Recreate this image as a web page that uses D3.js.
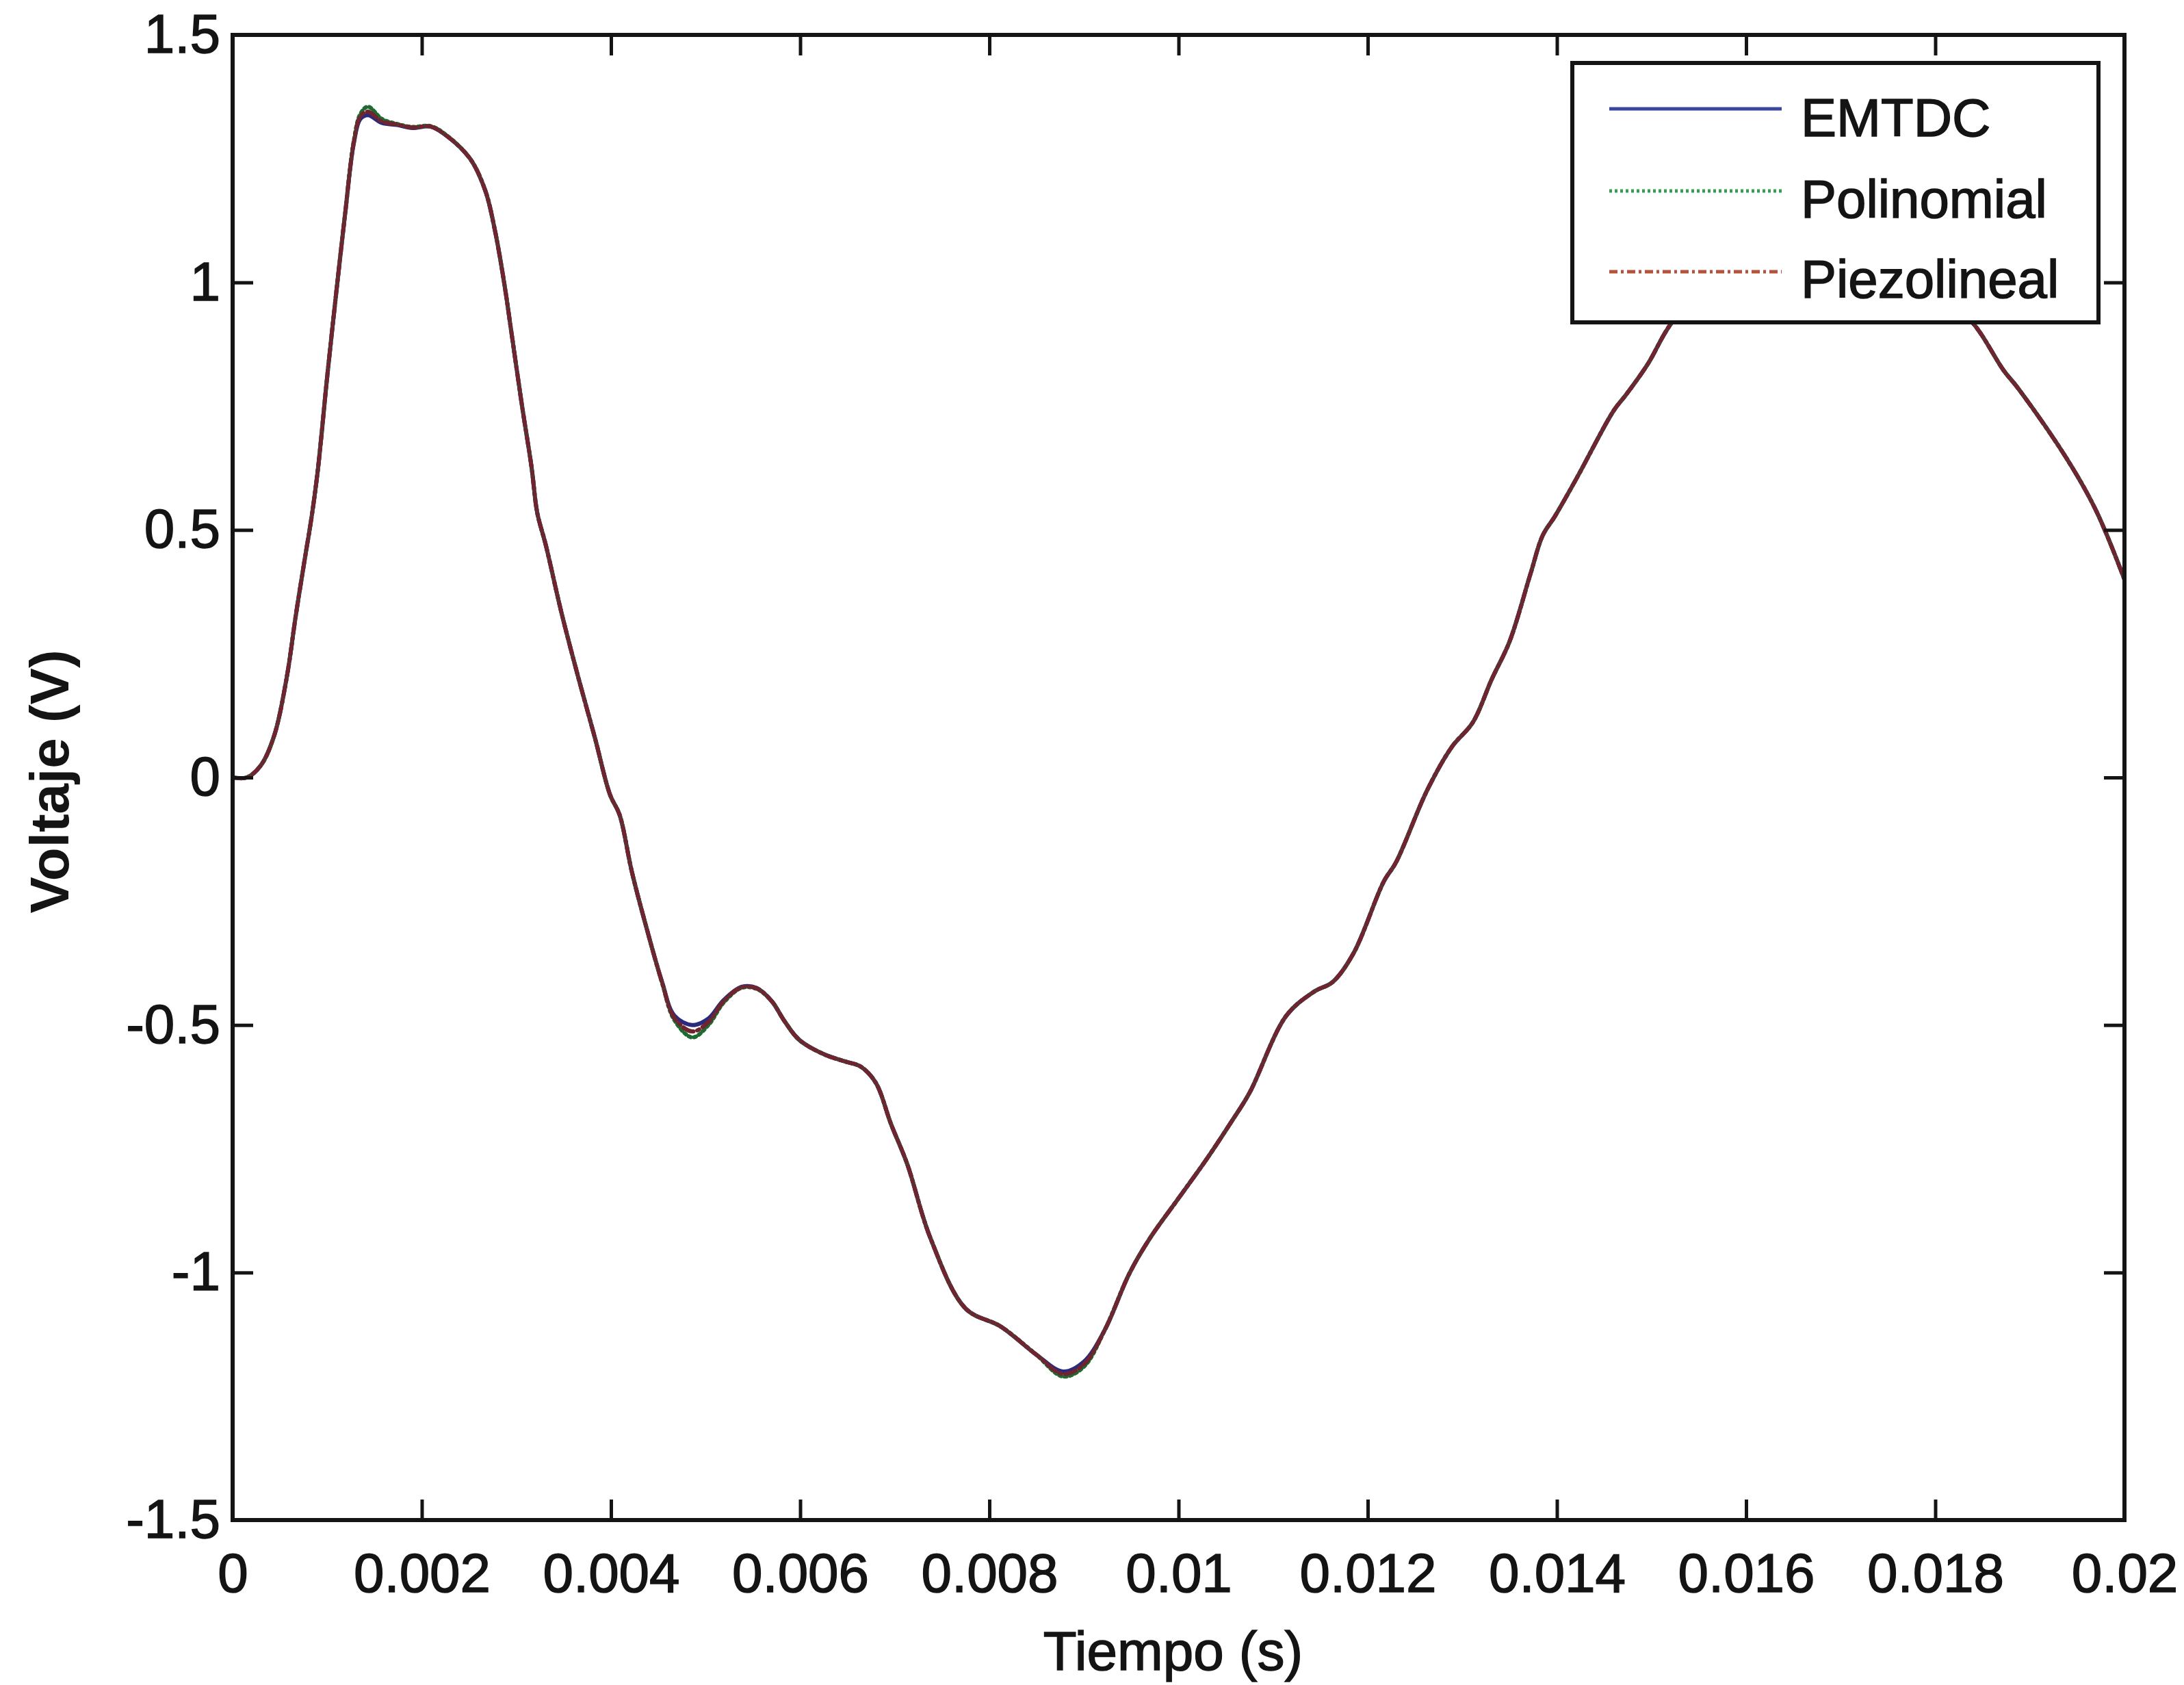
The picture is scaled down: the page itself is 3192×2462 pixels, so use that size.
<!DOCTYPE html>
<html>
<head>
<meta charset="utf-8">
<script src="https://cdn.jsdelivr.net/npm/d3@7"></script>
<style>
  html, body { margin: 0; padding: 0; background: #ffffff; }
  svg { display: block; }
</style>
</head>
<body>
<svg id="chart" width="3192" height="2462"></svg>
<script>
// Time samples (s) shared by the three simulated waveforms
const tiempo = [
  0, 0.00015, 0.0003, 0.00044, 0.00057, 0.00067, 0.00077, 0.00083, 0.0009, 0.001,
  0.00109, 0.00119, 0.00128, 0.00135, 0.00143, 0.00158, 0.00174, 0.0019, 0.00209, 0.00225,
  0.00251, 0.00267, 0.00277, 0.00287, 0.00296, 0.00306, 0.00316, 0.00322, 0.00331, 0.00348,
  0.00366, 0.00383, 0.00399, 0.00409, 0.00422, 0.00438, 0.00454, 0.00467, 0.00486, 0.00503,
  0.00519, 0.00538, 0.00554, 0.0057, 0.00583, 0.00599, 0.00625, 0.00648, 0.00664, 0.0068,
  0.00696, 0.00713, 0.00738, 0.00775, 0.00812, 0.00849, 0.00878, 0.009, 0.00922, 0.00948,
  0.0097, 0.01, 0.0103, 0.01056, 0.01075, 0.01114, 0.01143, 0.01163, 0.01185, 0.01217,
  0.0123, 0.01263, 0.01289, 0.01311, 0.01331, 0.0135, 0.01372, 0.01385, 0.01398, 0.01421,
  0.0146, 0.01473, 0.01496, 0.0152, 0.0156, 0.016, 0.0164, 0.0168, 0.0172, 0.0176,
  0.018, 0.01841, 0.01872, 0.01888, 0.01939, 0.0197, 0.02
];

// Voltage (V), EMTDC reference simulation
const emtdc = [
  0, 0.0, 0.025, 0.085, 0.2, 0.33, 0.45, 0.52, 0.62, 0.81,
  0.97, 1.14, 1.28, 1.33, 1.338, 1.322, 1.318, 1.312, 1.315, 1.298,
  1.25, 1.186, 1.108, 1.0, 0.882, 0.75, 0.627, 0.535, 0.47, 0.33,
  0.198, 0.08, -0.035, -0.075, -0.19, -0.307, -0.413, -0.481, -0.5, -0.487,
  -0.45, -0.423, -0.425, -0.452, -0.491, -0.53, -0.559, -0.574, -0.584, -0.617,
  -0.7, -0.78, -0.932, -1.073, -1.109, -1.165, -1.2, -1.18, -1.116, -1.002,
  -0.93, -0.85, -0.77, -0.695, -0.637, -0.481, -0.433, -0.413, -0.355, -0.21,
  -0.171, -0.025, 0.062, 0.111, 0.198, 0.275, 0.411, 0.489, 0.528, 0.605,
  0.741, 0.773, 0.835, 0.915, 1.0, 1.07, 1.11, 1.13, 1.11, 1.06,
  0.99, 0.915, 0.823, 0.785, 0.644, 0.539, 0.4
];

// Voltage (V), polynomial model
const polinomial = [
  0, 0.0, 0.025, 0.085, 0.2, 0.33, 0.45, 0.52, 0.62, 0.81,
  0.97, 1.14, 1.285, 1.34, 1.355, 1.33, 1.32, 1.314, 1.316, 1.299,
  1.25, 1.186, 1.108, 1.0, 0.882, 0.75, 0.627, 0.535, 0.47, 0.33,
  0.198, 0.08, -0.035, -0.075, -0.19, -0.307, -0.415, -0.49, -0.525, -0.5,
  -0.455, -0.425, -0.427, -0.452, -0.491, -0.53, -0.559, -0.574, -0.584, -0.617,
  -0.7, -0.78, -0.932, -1.073, -1.109, -1.165, -1.21, -1.19, -1.116, -1.002,
  -0.93, -0.85, -0.77, -0.695, -0.637, -0.481, -0.433, -0.413, -0.355, -0.21,
  -0.171, -0.025, 0.062, 0.111, 0.198, 0.275, 0.411, 0.489, 0.528, 0.605,
  0.741, 0.773, 0.835, 0.915, 1.0, 1.07, 1.11, 1.13, 1.11, 1.06,
  0.99, 0.915, 0.823, 0.785, 0.644, 0.539, 0.4
];

// Voltage (V), piecewise-linear model
const piezolineal = [
  0, 0.0, 0.025, 0.085, 0.2, 0.33, 0.45, 0.52, 0.62, 0.81,
  0.97, 1.14, 1.282, 1.335, 1.345, 1.325, 1.319, 1.313, 1.315, 1.298,
  1.25, 1.186, 1.108, 1.0, 0.882, 0.75, 0.627, 0.535, 0.47, 0.33,
  0.198, 0.08, -0.035, -0.075, -0.19, -0.307, -0.414, -0.486, -0.513, -0.494,
  -0.452, -0.424, -0.426, -0.452, -0.491, -0.53, -0.559, -0.574, -0.584, -0.617,
  -0.7, -0.78, -0.932, -1.073, -1.109, -1.165, -1.205, -1.185, -1.116, -1.002,
  -0.93, -0.85, -0.77, -0.695, -0.637, -0.481, -0.433, -0.413, -0.355, -0.21,
  -0.171, -0.025, 0.062, 0.111, 0.198, 0.275, 0.411, 0.489, 0.528, 0.605,
  0.741, 0.773, 0.835, 0.915, 1.0, 1.07, 1.11, 1.13, 1.11, 1.06,
  0.99, 0.915, 0.823, 0.785, 0.644, 0.539, 0.4
];

// Axis ticks and their labels
const xTicks = [0, 0.002, 0.004, 0.006, 0.008, 0.01, 0.012, 0.014, 0.016, 0.018, 0.02];
const xTickLabels = ["0", "0.002", "0.004", "0.006", "0.008", "0.01", "0.012", "0.014", "0.016", "0.018", "0.02"];
const yTicks = [-1.5, -1, -0.5, 0, 0.5, 1, 1.5];
const yTickLabels = ["-1.5", "-1", "-0.5", "0", "0.5", "1", "1.5"];

// Legend entries
const seriesNames = ["EMTDC", "Polinomial", "Piezolineal"];

const FONT = "'Liberation Sans', Arial, Helvetica, sans-serif";
const INK = "#141414";

const plot = { left: 340, right: 3105, top: 51, bottom: 2221 };
const svg = d3.select("#chart");
svg.append("rect").attr("width", 3192).attr("height", 2462).attr("fill", "#ffffff");

const x = d3.scaleLinear().domain([0, 0.02]).range([plot.left, plot.right]);
const y = d3.scaleLinear().domain([-1.5, 1.5]).range([plot.bottom, plot.top]);

// Line styles per series (dark tones: the three traces overlap almost everywhere)
const styles = [
  { values: emtdc,       color: "#2b2a7c", width: 6, dash: null },
  { values: polinomial,  color: "#1f6a30", width: 6, dash: "3,5" },
  { values: piezolineal, color: "#6e2530", width: 6, dash: "16,6,3,6" }
];

svg.append("defs").append("clipPath").attr("id", "plotClip")
  .append("rect")
  .attr("x", plot.left).attr("y", plot.top)
  .attr("width", plot.right - plot.left).attr("height", plot.bottom - plot.top);

const line = d3.line()
  .x((d, i) => x(tiempo[i]))
  .y(d => y(d))
  .curve(d3.curveCatmullRom.alpha(0.5));

const lines = svg.append("g").attr("clip-path", "url(#plotClip)");
styles.forEach(s => {
  lines.append("path")
    .datum(s.values)
    .attr("d", line)
    .attr("fill", "none")
    .attr("stroke", s.color)
    .attr("stroke-width", s.width)
    .attr("stroke-linejoin", "round")
    .attr("stroke-linecap", "round")
    .attr("stroke-dasharray", s.dash);
});

// Axes: labelled bottom/left, mirrored tick marks top/right, all ticks pointing inward
const tickLen = 30;
function styleAxis(g) {
  g.select(".domain").remove();
  g.selectAll(".tick line").attr("stroke", INK).attr("stroke-width", 5);
  g.selectAll(".tick text").attr("fill", INK).attr("font-family", FONT).attr("font-size", 80)
    .attr("stroke", INK).attr("stroke-width", 1.5);
}

svg.append("g")
  .attr("transform", `translate(0,${plot.bottom})`)
  .call(d3.axisBottom(x).tickValues(xTicks).tickFormat((d, i) => xTickLabels[i])
    .tickSizeInner(-tickLen).tickSizeOuter(0).tickPadding(48))
  .call(styleAxis);

svg.append("g")
  .attr("transform", `translate(${plot.left},0)`)
  .call(d3.axisLeft(y).tickValues(yTicks).tickFormat((d, i) => yTickLabels[i])
    .tickSizeInner(-tickLen).tickSizeOuter(0).tickPadding(18))
  .call(styleAxis);

svg.append("g")
  .attr("transform", `translate(0,${plot.top})`)
  .call(d3.axisTop(x).tickValues(xTicks).tickFormat("").tickSizeInner(-tickLen).tickSizeOuter(0))
  .call(styleAxis);

svg.append("g")
  .attr("transform", `translate(${plot.right},0)`)
  .call(d3.axisRight(y).tickValues(yTicks).tickFormat("").tickSizeInner(-tickLen).tickSizeOuter(0))
  .call(styleAxis);

// Plot frame
svg.append("rect")
  .attr("x", plot.left).attr("y", plot.top)
  .attr("width", plot.right - plot.left).attr("height", plot.bottom - plot.top)
  .attr("fill", "none").attr("stroke", INK).attr("stroke-width", 6);

// Axis titles
svg.append("text")
  .attr("x", (plot.left + plot.right) / 2 - 8).attr("y", 2440)
  .attr("text-anchor", "middle")
  .attr("font-family", FONT).attr("font-size", 80).attr("fill", INK)
  .attr("stroke", INK).attr("stroke-width", 1.5)
  .text("Tiempo (s)");

svg.append("text")
  .attr("transform", `translate(100,${(plot.top + plot.bottom) / 2 + 6}) rotate(-90)`)
  .attr("text-anchor", "middle")
  .attr("font-family", FONT).attr("font-size", 80).attr("font-weight", "bold").attr("fill", INK)
  .text("Voltaje (V)");

// Legend
const legend = { left: 2298, top: 92, right: 3067, bottom: 471 };
const lg = svg.append("g");
lg.append("rect")
  .attr("x", legend.left).attr("y", legend.top)
  .attr("width", legend.right - legend.left).attr("height", legend.bottom - legend.top)
  .attr("fill", "#ffffff").attr("stroke", INK).attr("stroke-width", 6);

const legendColors = ["#3b469e", "#3a9a52", "#b4533a"];
const legendDash = [null, "4,4", "12,5,4,5"];
const rowLineY = [159, 279, 397];
const rowTextY = [199, 318, 435];
seriesNames.forEach((name, i) => {
  lg.append("line")
    .attr("x1", 2352).attr("x2", 2604)
    .attr("y1", rowLineY[i]).attr("y2", rowLineY[i])
    .attr("stroke", legendColors[i]).attr("stroke-width", 5)
    .attr("stroke-dasharray", legendDash[i]);
  lg.append("text")
    .attr("x", 2632).attr("y", rowTextY[i])
    .attr("font-family", FONT).attr("font-size", 78).attr("fill", INK)
    .attr("stroke", INK).attr("stroke-width", 1.5)
    .text(name);
});
</script>
</body>
</html>
